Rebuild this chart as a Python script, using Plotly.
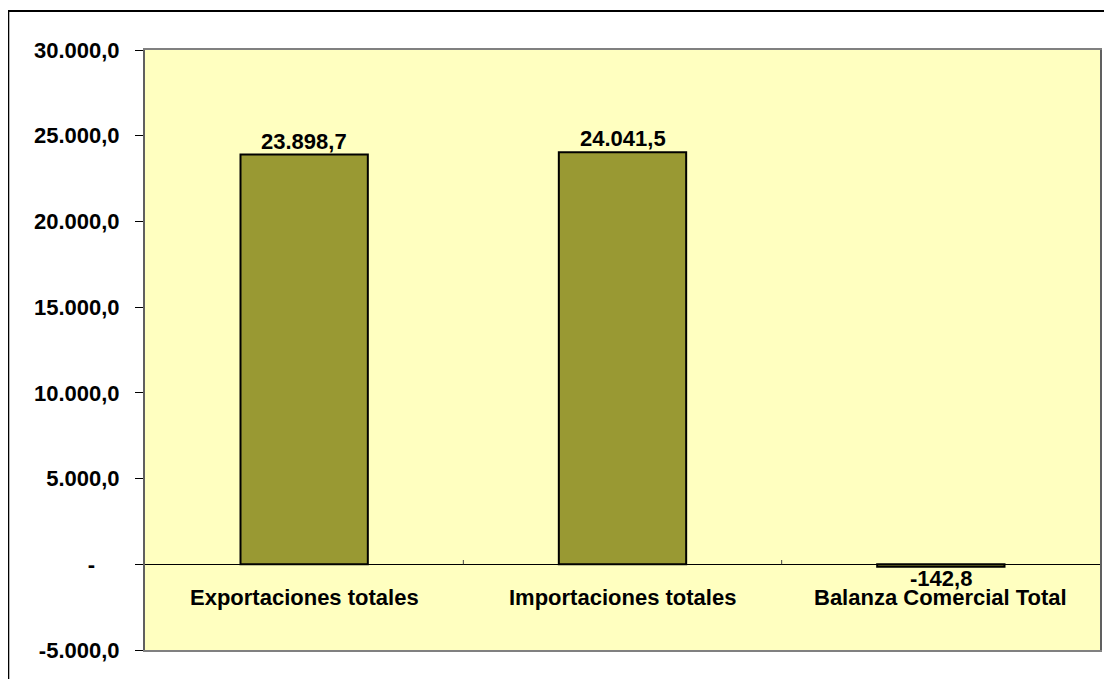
import plotly.graph_objects as go

categories = ["Exportaciones totales", "Importaciones totales", "Balanza Comercial Total"]
values = [23898.7, 24041.5, -142.8]
value_labels = ["23.898,7", "24.041,5", "-142,8"]
tick_vals = [-5000, 0, 5000, 10000, 15000, 20000, 25000, 30000]
tick_text = ["-5.000,0", "-\u00a0\u00a0\u00a0\u00a0", "5.000,0", "10.000,0", "15.000,0", "20.000,0", "25.000,0", "30.000,0"]

FONT = "Liberation Sans, Arial, sans-serif"
FS = 22
OFF = 8  # page body margin
W, H = 1112 - OFF, 679 - OFF
L, R, T, B = 145 - OFF, W - (1102 - OFF), 50 - OFF, H - (650 - OFF)
pw, ph = W - L - R, H - T - B

fig = go.Figure()
fig.add_trace(go.Bar(
    x=categories, y=values,
    width=0.4,
    marker=dict(color="#999933", line=dict(color="black", width=2)),
    cliponaxis=False,
))

for c, v, t in zip(categories, values, value_labels):
    fig.add_annotation(x=c, y=v, xref="x", yref="y", text="<b>%s</b>" % t,
                       showarrow=False, yanchor="bottom" if v >= 0 else "top",
                       yshift=0 if v >= 0 else 2, borderpad=0,
                       font=dict(family=FONT, size=FS, color="black"))
    fig.add_annotation(x=c, y=0, xref="x", yref="y", text="<b>%s</b>" % c,
                       showarrow=False, yanchor="top", yshift=-20, borderpad=0,
                       font=dict(family=FONT, size=FS, color="black"))

# category boundary ticks on zero line
for xb in [0.5, 1.5]:
    fig.add_shape(type="line", xref="x", yref="y", x0=xb, x1=xb, y0=0, y1=250,
                  line=dict(color="#444444", width=1))

# outer chart frame (clipped at right/bottom)
fig.add_shape(type="rect", xref="paper", yref="paper",
              x0=(8 - OFF - L) / pw, x1=(W + 20 - L) / pw,
              y0=(H - B - (H + 20)) / ph, y1=(H - B - (11 - OFF)) / ph,
              line=dict(color="black", width=2), fillcolor="rgba(0,0,0,0)", layer="below")

fig.update_layout(
    width=W, height=H,
    margin=dict(l=L, r=R, t=T, b=B),
    paper_bgcolor="white",
    plot_bgcolor="#FFFFC0",
    showlegend=False,
    font=dict(family=FONT, color="black"),
)
fig.update_xaxes(
    range=[-0.5, 2.5], showticklabels=False, ticks="",
    showline=True, linecolor="#808080", linewidth=2, mirror=True,
    showgrid=False, zeroline=False, fixedrange=True,
)
fig.update_yaxes(
    range=[-5000, 30000], tickvals=tick_vals, ticktext=["<b>%s</b>" % t for t in tick_text],
    tickfont=dict(family=FONT, size=FS, color="black"),
    ticks="outside", ticklen=8, tickcolor="black", tickwidth=1,
    showline=True, linecolor="#606060", linewidth=2, mirror=True,
    showgrid=False, zeroline=True, zerolinecolor="black", zerolinewidth=1,
    ticklabelstandoff=11, fixedrange=True,
)

fig.write_html("out.html")
